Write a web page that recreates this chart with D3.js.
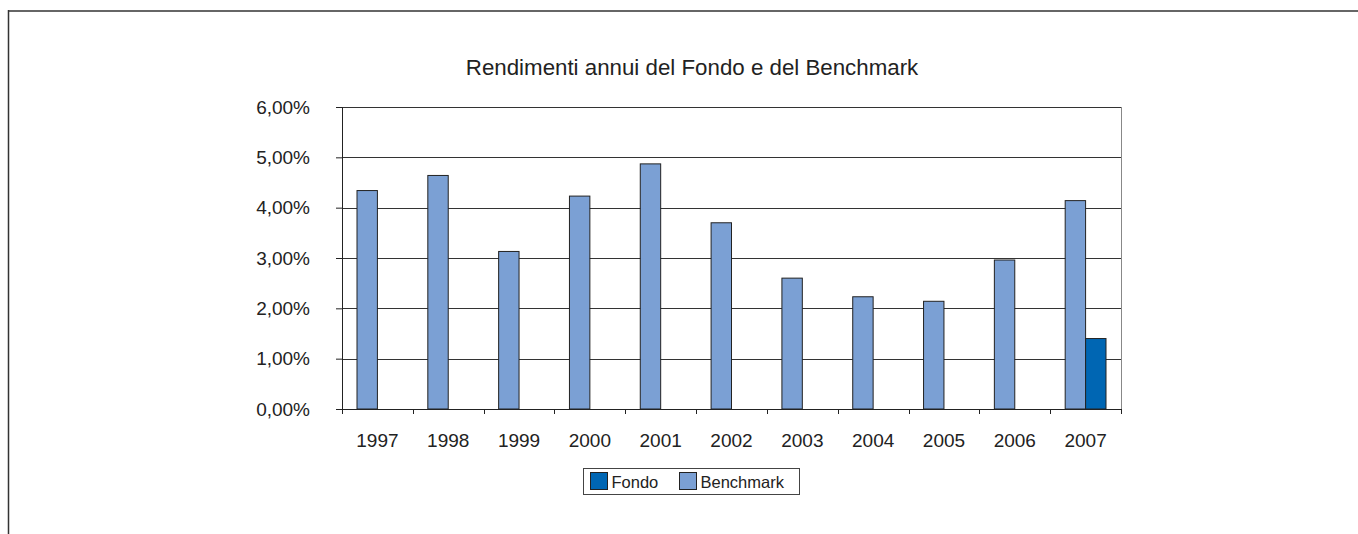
<!DOCTYPE html>
<html>
<head>
<meta charset="utf-8">
<script src="https://cdn.jsdelivr.net/npm/d3@7"></script>
<style>
  body { margin: 0; background: #fff; }
  svg text { font-family: "Liberation Sans", Arial, sans-serif; fill: #222; }
</style>
</head>
<body>
<div id="chart"></div>
<script>
// data
var years = ["1997", "1998", "1999", "2000", "2001", "2002", "2003", "2004", "2005", "2006", "2007"];
var benchmark = [4.34, 4.64, 3.13, 4.23, 4.87, 3.70, 2.60, 2.23, 2.14, 2.96, 4.14];
var fondo = [null, null, null, null, null, null, null, null, null, null, 1.40];
var yTicks = [0, 1, 2, 3, 4, 5, 6];
var seriesNames = ["Fondo", "Benchmark"];

var colors = {Fondo: "#0066b3", Benchmark: "#7ba0d4"};

var W = 1358, H = 534;
var margin = {top: 107, left: 342, right: 237, bottom: 125};

var svg = d3.select("#chart").append("svg").attr("width", W).attr("height", H);

// outer frame (only top and left edges visible)
svg.append("line").attr("x1", 8).attr("x2", W).attr("y1", 11).attr("y2", 11)
    .attr("stroke", "#666").attr("stroke-width", 2);
svg.append("line").attr("x1", 8.5).attr("x2", 8.5).attr("y1", 10).attr("y2", H)
    .attr("stroke", "#333").attr("stroke-width", 1.5);

var width = W - margin.left - margin.right;
var height = H - margin.top - margin.bottom;

var g = svg.append("g").attr("transform", "translate(" + margin.left + "," + margin.top + ")");

var x = d3.scaleBand().domain(years).range([0, width]);
var y = d3.scaleLinear().domain([0, 6]).range([height, 0]);

// gridlines
g.selectAll(".grid").data(yTicks).enter().append("line")
    .attr("x1", 0).attr("x2", width)
    .attr("y1", function (d) { return Math.round(y(d)) + 0.5; })
    .attr("y2", function (d) { return Math.round(y(d)) + 0.5; })
    .attr("stroke", "#333").attr("stroke-width", 1);

// right border of plot area
g.append("line").attr("x1", width + 0.5).attr("x2", width + 0.5).attr("y1", 0).attr("y2", height)
    .attr("stroke", "#888");

// bars
var pad = 15;
var bw = (x.bandwidth() - 2 * pad) / 2;

g.selectAll(".bench").data(years).enter().append("rect")
    .attr("x", function (d) { return x(d) + pad; })
    .attr("y", function (d, i) { return y(benchmark[i]); })
    .attr("width", bw)
    .attr("height", function (d, i) { return height - y(benchmark[i]); })
    .attr("fill", colors.Benchmark).attr("stroke", "#222").attr("stroke-width", 1);

g.selectAll(".fondo").data(years.filter(function (d, i) { return fondo[i] != null; })).enter().append("rect")
    .attr("x", function (d) { return x(d) + pad + bw; })
    .attr("y", function (d) { return y(fondo[years.indexOf(d)]); })
    .attr("width", bw)
    .attr("height", function (d) { return height - y(fondo[years.indexOf(d)]); })
    .attr("fill", colors.Fondo).attr("stroke", "#222").attr("stroke-width", 1);

// y axis
var yAxis = g.append("g")
    .call(d3.axisLeft(y).tickValues(yTicks).tickSize(6).tickPadding(26)
        .tickFormat(function (d) { return d3.format(".2f")(d).replace(".", ",") + "%"; }));
yAxis.select(".domain").attr("stroke", "#222");
yAxis.selectAll(".tick line").attr("stroke", "#222");
yAxis.selectAll("text").style("font-size", "19px").attr("fill", "#222");

// x axis
var xAxis = g.append("g").attr("transform", "translate(0," + height + ")")
    .call(d3.axisBottom(x).tickSize(0).tickPadding(25));
xAxis.select(".domain").remove();
xAxis.selectAll("text").style("font-size", "19px").attr("fill", "#222");
g.append("line").attr("x1", -6).attr("x2", width).attr("y1", height + 0.5).attr("y2", height + 0.5)
    .attr("stroke", "#222");
g.selectAll(".xtick").data(years.concat(["end"])).enter().append("line")
    .attr("x1", function (d, i) { return Math.round(i * x.step()) + 0.5; })
    .attr("x2", function (d, i) { return Math.round(i * x.step()) + 0.5; })
    .attr("y1", height).attr("y2", height + 5)
    .attr("stroke", "#222");

// title
svg.append("text").attr("x", 692).attr("y", 75).attr("text-anchor", "middle")
    .style("font-size", "22.3px").text("Rendimenti annui del Fondo e del Benchmark");

// legend
var lg = svg.append("g").attr("transform", "translate(583.5,468.5)");
lg.append("rect").attr("width", 216).attr("height", 26).attr("fill", "#fff").attr("stroke", "#444");
var itemX = [7, 96];
seriesNames.forEach(function (s, i) {
    lg.append("rect").attr("x", itemX[i]).attr("y", 4).attr("width", 17).attr("height", 17)
        .attr("fill", colors[s]).attr("stroke", "#222");
    lg.append("text").attr("x", itemX[i] + 21).attr("y", 19.5).style("font-size", "16.5px").text(s);
});
</script>
</body>
</html>
